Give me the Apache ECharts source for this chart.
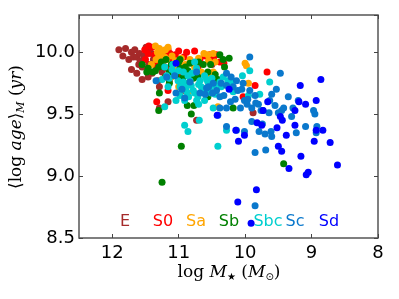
<!DOCTYPE html>
<html><head><meta charset="utf-8">
<script src="https://cdn.jsdelivr.net/npm/echarts@6/dist/echarts.min.js"></script>
<style>html,body{margin:0;padding:0;background:#fff}#c{width:399px;height:299px}</style>
</head><body><div id="c"></div>
<script>
const classNames = ['E','S0','Sa','Sb','Sbc','Sc','Sd'];
const classColors = ['#a52a2a','#ff0000','#ffa500','#008000','#00cfcf','#0a78cc','#0000ff'];
const xTicks = [8,9,10,11,12];
const yTicks = [8.5,9.0,9.5,10.0];

const E = [[11.90,10.02],[11.80,10.03],[11.71,10.00],[11.66,10.02],[11.84,9.97],[11.75,9.94],[11.68,9.96],[11.63,9.96],[11.59,9.99],[11.58,9.93],[11.71,9.86],[11.63,9.83],[11.55,9.78],[11.46,9.80],[11.49,10.04],[11.44,10.02],[11.41,9.99],[11.38,9.94],[11.45,9.90],[11.40,9.83],[11.31,9.77],[11.29,9.72],[11.16,9.60],[11.29,9.55],[10.73,9.45],[9.88,9.51],[10.98,9.76],[11.14,9.77],[10.48,9.95],[10.50,9.90],[11.55,9.88],[11.60,9.90],[11.52,9.97],[11.34,9.90],[11.25,9.84]];
const S0 = [[11.51,10.02],[11.46,9.99],[11.40,10.04],[11.29,10.02],[11.16,10.02],[11.13,9.99],[11.00,10.01],[10.92,9.96],[10.76,10.01],[10.53,9.98],[10.43,9.98],[10.38,9.92],[10.32,9.91],[11.35,9.90],[11.24,9.91],[11.18,9.87],[11.08,9.94],[11.33,9.60],[11.16,9.69],[10.93,9.69],[10.83,9.75],[10.58,9.64],[10.03,9.64],[9.85,9.73],[9.67,9.84],[11.50,9.94],[11.31,9.96],[10.48,9.94],[10.71,9.88],[10.99,9.80],[11.45,10.05],[11.36,9.98],[11.22,10.00],[11.05,9.98],[10.88,10.00],[10.60,9.97],[10.68,9.94]];
const Sa = [[11.35,10.05],[11.29,10.03],[11.24,10.01],[11.26,9.98],[11.21,9.96],[11.18,9.94],[11.34,9.94],[11.25,9.91],[11.09,9.88],[11.04,9.85],[10.98,9.90],[10.96,9.95],[10.83,9.94],[10.76,9.88],[10.66,9.84],[10.56,9.98],[10.48,9.99],[10.53,9.81],[10.48,9.84],[10.00,9.91],[9.98,9.89],[9.95,9.75],[10.41,9.56],[10.86,9.67],[11.00,9.72],[11.11,9.80],[10.73,9.81],[11.16,10.04],[11.41,9.90],[11.32,10.00],[11.20,10.02],[11.10,9.97],[11.05,9.93],[10.90,9.90],[10.70,9.95],[10.62,9.99],[10.55,9.93],[11.30,9.97],[10.45,9.92]];
const Sb = [[11.55,9.90],[11.46,9.87],[11.39,9.84],[11.35,9.85],[11.26,9.92],[11.21,9.88],[11.14,9.84],[11.11,9.90],[11.04,9.81],[10.98,9.87],[10.93,9.80],[10.86,9.85],[10.78,9.79],[10.83,9.91],[10.71,9.80],[10.63,9.90],[10.56,9.84],[10.46,9.77],[10.41,9.78],[10.33,9.94],[10.24,9.95],[10.31,9.88],[10.38,9.98],[11.29,9.67],[11.30,9.53],[10.87,9.57],[10.77,9.57],[10.81,9.50],[10.96,9.24],[11.25,8.95],[9.42,9.10],[10.18,9.55],[10.56,9.64],[10.98,9.94],[11.19,9.94],[10.91,9.75],[11.14,9.75],[11.48,9.84],[11.30,9.88],[11.00,9.92],[10.90,9.88],[10.70,9.92],[10.52,9.90],[10.45,9.82],[11.20,9.80],[10.95,9.78]];
const Sbc = [[11.21,9.88],[11.18,9.81],[11.14,9.79],[11.06,9.83],[11.01,9.77],[10.98,9.72],[10.93,9.76],[10.89,9.72],[10.86,9.81],[10.83,9.77],[10.81,9.73],[10.78,9.69],[10.76,9.67],[10.73,9.61],[10.71,9.64],[10.68,9.77],[10.66,9.72],[10.61,9.81],[10.56,9.76],[10.53,9.69],[10.46,9.73],[10.38,9.76],[10.36,9.72],[10.98,9.65],[10.91,9.61],[11.04,9.61],[10.93,9.84],[10.73,9.87],[10.76,9.92],[11.09,9.90],[11.16,9.72],[11.21,9.56],[10.61,9.61],[10.51,9.67],[10.33,9.80],[10.26,9.77],[10.21,9.76],[10.04,9.81],[9.93,9.85],[9.63,9.76],[10.91,9.41],[10.86,9.36],[10.69,9.45],[10.41,9.24],[10.28,9.37],[10.48,9.55],[9.95,9.65],[9.78,9.66],[10.18,9.68],[11.10,9.86],[11.00,9.85],[10.95,9.70],[10.88,9.68],[10.80,9.83],[10.70,9.74],[10.64,9.68],[10.58,9.78],[10.50,9.79],[11.25,9.78],[10.85,9.64],[10.70,9.58],[10.45,9.66]];
const Sc = [[9.93,9.96],[9.47,9.83],[9.53,9.70],[9.20,9.61],[9.35,9.64],[9.28,9.55],[9.45,9.53],[9.50,9.51],[9.64,9.51],[9.73,9.53],[9.90,9.55],[9.84,9.59],[10.01,9.61],[10.07,9.55],[10.11,9.69],[10.18,9.72],[10.28,9.73],[10.36,9.75],[10.43,9.69],[10.49,9.67],[10.38,9.55],[10.28,9.55],[10.03,9.75],[10.13,9.77],[10.21,9.80],[10.28,9.83],[9.85,9.65],[9.93,9.69],[9.90,9.44],[9.79,9.36],[9.74,9.42],[9.70,9.34],[9.61,9.36],[9.60,9.32],[9.69,9.21],[10.01,9.36],[9.85,9.19],[9.85,8.76],[9.30,9.48],[9.23,9.35],[9.09,9.40],[8.95,9.50],[8.92,9.40],[8.93,9.35],[8.97,9.53],[11.18,9.80],[11.34,9.77],[11.04,9.67],[10.91,9.63],[10.68,9.67],[10.58,9.71],[10.48,9.75],[9.60,9.66],[9.42,9.55],[9.63,9.61],[10.13,9.37],[10.28,9.40],[10.38,9.64],[9.96,9.62],[9.76,9.53],[11.06,9.81],[10.83,9.76],[10.73,9.84],[10.41,9.49],[10.55,9.72],[10.15,9.62],[10.05,9.70],[9.97,9.58],[10.22,9.60],[10.32,9.65],[9.80,9.58],[9.55,9.57],[10.60,9.66],[10.95,9.70]];
const Sd = [[11.04,9.91],[10.24,9.70],[10.42,9.49],[9.17,9.73],[8.86,9.78],[9.09,9.58],[8.93,9.61],[9.19,9.60],[9.66,9.60],[9.25,9.53],[9.73,9.53],[9.52,9.39],[9.47,9.48],[9.44,9.45],[9.25,9.41],[8.93,9.37],[8.83,9.37],[9.38,9.33],[9.82,9.43],[9.75,9.41],[10.01,9.33],[10.10,9.28],[10.14,9.37],[9.50,9.24],[9.45,9.20],[9.16,9.16],[8.96,9.28],[8.72,9.27],[8.61,9.09],[9.34,9.06],[9.08,9.01],[9.05,9.03],[9.83,8.89],[10.11,8.79],[9.91,8.62]];
const classData = [E,S0,Sa,Sb,Sbc,Sc,Sd];
const labelPx = [125,163,196,229,268,295,329];

const chart = echarts.init(document.getElementById('c'), null, {renderer:'canvas'});
const tickFont = {fontFamily:'DejaVu Sans', fontSize:18, color:'#000'};
const axisBase = (pos, showLabels, isX) => ({
  type:'value', position:pos,
  min: isX ? 8 : 8.5, max: isX ? 12.5 : 10.3, interval: isX ? 1 : 0.5,
  inverse: isX, scale:true,
  axisLine:{show:false},
  axisTick:{show:true, inside:true, length:4, lineStyle:{color:'#444', width:1}},
  splitLine:{show:false},
  axisLabel:{show:showLabels, showMaxLabel:false, margin: isX ? 6 : 4, ...tickFont,
    formatter: v => isX ? (xTicks.includes(v) ? String(v) : '') : (yTicks.some(t=>Math.abs(t-v)<1e-6) ? v.toFixed(1) : '')}
});
const option = {
  animation:false,
  grid:{left:79, right:21, top:15, bottom:61, show:true, borderColor:'#555', borderWidth:1.5, backgroundColor:'transparent'},
  xAxis:[axisBase('bottom', true, true), axisBase('top', false, true)],
  yAxis:[axisBase('left', true, false), axisBase('right', false, false)],
  series: classData.map((d,i)=>({
    type:'scatter', name:classNames[i], data:d, symbolSize:7,
    itemStyle:{color:classColors[i], opacity:1}, xAxisIndex:0, yAxisIndex:0
  })),
  graphic: classNames.map((n,i)=>({
    type:'text', x:labelPx[i], y:222, silent:true,
    style:{text:n, fill:classColors[i], font:'16px "DejaVu Sans"', textAlign:'center', textVerticalAlign:'middle'}
  })).concat([
    {type:'text', x:229, y:273, style:{
      text:'{n|log }{i|M}{s|★}{n| (}{i|M}{s|⊙}{n|)}', textAlign:'center', textVerticalAlign:'middle',
      rich:{n:{fontFamily:'DejaVu Serif', fontSize:17, fill:'#000'}, i:{fontFamily:'DejaVu Serif', fontStyle:'italic', fontSize:17, fill:'#000'}, s:{fontFamily:'DejaVu Sans', fontSize:10, fill:'#000', padding:[8,0,0,0]}}
    }},
    {type:'text', x:17, y:127, rotation:Math.PI/2, style:{
      text:'{n|⟨log }{i|age}{n|⟩}{s|M}{n| (}{i|yr}{n|)}', textAlign:'center', textVerticalAlign:'middle',
      rich:{n:{fontFamily:'DejaVu Serif', fontSize:17, fill:'#000'}, i:{fontFamily:'DejaVu Serif', fontStyle:'italic', fontSize:17, fill:'#000'}, s:{fontFamily:'DejaVu Serif', fontStyle:'italic', fontSize:11, fill:'#000', padding:[8,0,0,0]}}
    }}
  ])
};
chart.setOption(option);
</script></body></html>
